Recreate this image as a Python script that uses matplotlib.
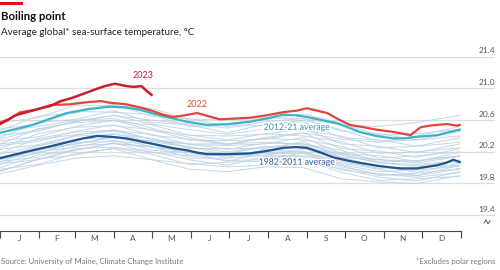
import matplotlib.pyplot as plt
from matplotlib.lines import Line2D
import matplotlib.patheffects as pe

plt.rcParams['font.family'] = ['Lato', 'DejaVu Sans']

# background years (1982-2021), values at these days of year
bg_days = [0, 30, 60, 90, 120, 150, 180, 210, 240, 270, 300, 330, 364]
bg_years = [
    [19.92, 20.03, 20.12, 20.15, 20.10, 19.98, 19.95, 20.01, 20.00, 19.86, 19.82, 19.80, 19.90],
    [19.98, 20.04, 20.18, 20.24, 20.10, 20.05, 20.01, 20.03, 20.11, 19.94, 19.84, 19.86, 19.89],
    [19.95, 20.11, 20.16, 20.25, 20.17, 20.04, 20.07, 20.08, 20.07, 19.99, 19.88, 19.83, 19.95],
    [20.05, 20.10, 20.24, 20.26, 20.20, 20.10, 20.03, 20.14, 20.14, 19.97, 19.92, 19.88, 19.94],
    [20.00, 20.16, 20.22, 20.31, 20.19, 20.15, 20.09, 20.10, 20.19, 20.03, 19.90, 19.93, 19.99],
    [20.08, 20.13, 20.28, 20.30, 20.27, 20.12, 20.12, 20.16, 20.15, 20.06, 19.98, 19.90, 20.03],
    [20.04, 20.20, 20.26, 20.35, 20.22, 20.19, 20.08, 20.19, 20.21, 20.04, 19.95, 19.97, 20.02],
    [20.11, 20.18, 20.32, 20.33, 20.30, 20.16, 20.16, 20.15, 20.24, 20.10, 20.03, 19.94, 20.06],
    [20.07, 20.24, 20.30, 20.39, 20.26, 20.21, 20.13, 20.23, 20.20, 20.08, 19.99, 20.01, 20.03],
    [20.13, 20.22, 20.36, 20.38, 20.31, 20.19, 20.18, 20.19, 20.28, 20.13, 20.02, 19.98, 20.10],
    [20.17, 20.28, 20.35, 20.43, 20.33, 20.26, 20.20, 20.27, 20.25, 20.17, 20.06, 20.04, 20.09],
    [20.12, 20.27, 20.40, 20.42, 20.37, 20.24, 20.24, 20.24, 20.33, 20.13, 20.10, 20.06, 20.14],
    [20.23, 20.29, 20.41, 20.48, 20.36, 20.30, 20.23, 20.31, 20.30, 20.22, 20.07, 20.09, 20.15],
    [20.18, 20.37, 20.45, 20.47, 20.42, 20.29, 20.28, 20.30, 20.38, 20.18, 20.15, 20.08, 20.19],
    [20.28, 20.33, 20.46, 20.54, 20.41, 20.36, 20.29, 20.37, 20.35, 20.27, 20.12, 20.15, 20.20],
    [20.24, 20.43, 20.51, 20.53, 20.48, 20.35, 20.34, 20.36, 20.44, 20.24, 20.21, 20.13, 20.24],
    [20.34, 20.39, 20.52, 20.60, 20.47, 20.41, 20.35, 20.43, 20.40, 20.33, 20.18, 20.20, 20.25],
    [20.30, 20.49, 20.57, 20.59, 20.54, 20.41, 20.40, 20.42, 20.50, 20.30, 20.27, 20.19, 20.30],
    [20.41, 20.46, 20.59, 20.66, 20.55, 20.48, 20.42, 20.49, 20.47, 20.40, 20.25, 20.27, 20.32],
    [20.38, 20.57, 20.61, 20.72, 20.57, 20.54, 20.44, 20.55, 20.58, 20.38, 20.35, 20.27, 20.38],
    [20.49, 20.55, 20.71, 20.70, 20.67, 20.52, 20.54, 20.53, 20.60, 20.48, 20.33, 20.35, 20.40],
    [20.47, 20.65, 20.69, 20.80, 20.65, 20.62, 20.52, 20.63, 20.62, 20.46, 20.43, 20.35, 20.46],
    [20.57, 20.63, 20.79, 20.78, 20.75, 20.60, 20.62, 20.61, 20.68, 20.56, 20.41, 20.43, 20.48],
    [20.10, 20.22, 20.30, 20.38, 20.34, 20.30, 20.30, 20.38, 20.44, 20.36, 20.32, 20.40, 20.52],
    [20.36, 20.48, 20.58, 20.66, 20.60, 20.55, 20.50, 20.58, 20.62, 20.54, 20.52, 20.57, 20.66],
    [20.30, 20.35, 20.42, 20.46, 20.36, 20.26, 20.16, 20.18, 20.18, 20.01, 19.92, 19.90, 19.98],
    [20.45, 20.52, 20.60, 20.62, 20.50, 20.38, 20.30, 20.32, 20.30, 20.16, 20.06, 20.02, 20.08],
    [19.96, 20.10, 20.22, 20.31, 20.26, 20.20, 20.18, 20.26, 20.30, 20.18, 20.10, 20.08, 20.15],
]

avg_8211_days = [0, 13, 26, 40, 53, 66, 77, 88, 100, 112, 124, 136, 148, 156, 164, 180, 198,
                 211, 224, 235, 243, 254, 264, 275, 285, 300, 317, 330, 338, 346, 353, 359, 364]
avg_8211 = [20.12, 20.17, 20.22, 20.27, 20.32, 20.37, 20.40, 20.39, 20.37, 20.33, 20.29, 20.25,
            20.22, 20.19, 20.17, 20.17, 20.18, 20.21, 20.25, 20.26, 20.25, 20.19, 20.13, 20.09,
            20.06, 20.02, 19.99, 19.99, 20.01, 20.03, 20.06, 20.10, 20.07]

avg_1221_days = [0, 13, 26, 40, 53, 70, 87, 100, 111, 122, 132, 140, 148, 156, 164, 180, 198,
                 211, 224, 235, 243, 255, 267, 277, 285, 298, 311, 320, 330, 338, 346, 356, 364]
avg_1221 = [20.44, 20.49, 20.54, 20.62, 20.69, 20.74, 20.77, 20.76, 20.73, 20.68, 20.64, 20.61,
            20.58, 20.56, 20.54, 20.55, 20.58, 20.62, 20.67, 20.66, 20.64, 20.60, 20.56, 20.50,
            20.45, 20.40, 20.37, 20.37, 20.39, 20.40, 20.41, 20.45, 20.48]

y2022_days = [0, 8, 16, 28, 40, 55, 71, 80, 87, 100, 111, 120, 129, 137, 146, 156, 165, 174, 186,
              198, 211, 224, 235, 243, 251, 259, 268, 277, 288, 298, 312, 325, 333, 340, 346, 354,
              362, 364]
y2022 = [20.57, 20.62, 20.70, 20.73, 20.79, 20.80, 20.83, 20.84, 20.82, 20.80, 20.76, 20.72, 20.67,
         20.64, 20.66, 20.69, 20.65, 20.61, 20.62, 20.63, 20.66, 20.70, 20.72, 20.75, 20.72, 20.69,
         20.61, 20.54, 20.51, 20.48, 20.45, 20.41, 20.51, 20.53, 20.54, 20.55, 20.53, 20.54]

y2023_days = [0, 6, 12, 21, 30, 40, 48, 55, 64, 74, 83, 91, 100, 106, 112, 116, 120]
y2023 = [20.55, 20.60, 20.66, 20.70, 20.74, 20.78, 20.84, 20.87, 20.92, 20.98, 21.03, 21.06, 21.03,
         21.02, 21.03, 20.97, 20.92]

month_starts = [0, 31, 59, 90, 120, 151, 181, 212, 243, 273, 304, 334, 365]
month_labels = ['J', 'F', 'M', 'A', 'M', 'J', 'J', 'A', 'S', 'O', 'N', 'D']
y_ticks = [19.4, 19.8, 20.2, 20.6, 21.0, 21.4]

grey = '#555555'
c2023 = '#c8202a'
c2022 = '#e4443b'
c1221 = '#3bb4c6'
c8211 = '#1f5591'

fig = plt.figure(figsize=(5, 2.7), dpi=100)
ax = fig.add_axes([0, 1 - 231 / 270, 495 / 500, (231 - 56) / 270])

for vals in bg_years:
    ax.plot(bg_days, vals, color='#bdd3e4', lw=0.7, alpha=0.9, zorder=2)

ax.plot(avg_8211_days, avg_8211, color=c8211, lw=1.6, zorder=4)
ax.plot(avg_1221_days, avg_1221, color=c1221, lw=1.6, zorder=4)
ax.plot(y2022_days, y2022, color=c2022, lw=1.6, zorder=5)
ax.plot(y2023_days, y2023, color=c2023, lw=1.8, zorder=6)

halo = [pe.withStroke(linewidth=2, foreground='white')]
ax.text(113, 21.16, '2023', color=c2023, fontsize=6.5, ha='center', va='center', zorder=7)
ax.text(156, 20.80, '2022', color=c2022, fontsize=6.5, ha='center', va='center', zorder=7)
ax.text(235, 20.51, '2012-21 average', color='#2a8fa0', fontsize=6.3, ha='center',
        va='center', zorder=7, path_effects=halo)
ax.text(235, 20.07, '1982-2011 average', color=c8211, fontsize=6.3, ha='center',
        va='center', zorder=7, path_effects=halo)

ax.set_xlim(0, 365 * 495 / 461)
ax.set_ylim(19.2, 21.41)

ax.set_yticks(y_ticks)
ax.tick_params(axis='y', length=0, labelleft=False)
ax.grid(axis='y', color='#dddddd', lw=0.9, zorder=0)
for t in y_ticks:
    ax.text(1.0, t + 0.03, f'{t:.1f}', transform=ax.get_yaxis_transform(), ha='right',
            va='bottom', fontsize=6, color=grey)

ax.set_xticks(month_starts)
ax.set_xticklabels([])
mids = [(month_starts[i] + month_starts[i + 1]) / 2 for i in range(12)]
ax.set_xticks(mids, minor=True)
ax.set_xticklabels(month_labels, minor=True)
ax.tick_params(axis='x', which='major', direction='out', length=5, width=0.8, color='#444444')
ax.tick_params(axis='x', which='minor', length=0, pad=3, labelsize=6, labelcolor=grey)

for s in ['top', 'right', 'left']:
    ax.spines[s].set_visible(False)
ax.spines['bottom'].set_bounds(0, 365)
ax.spines['bottom'].set_color('#444444')
ax.spines['bottom'].set_linewidth(0.8)

# axis break mark
fig.add_artist(Line2D([484 / 500, 486 / 500, 488 / 500, 490 / 500],
                      [1 - 223 / 270, 1 - 220 / 270, 1 - 224 / 270, 1 - 221 / 270],
                      color=grey, lw=0.7))

# header
fig.add_artist(Line2D([0, 21 / 500], [1 - 3 / 270, 1 - 3 / 270], color='#e3120b', lw=2.2))
fig.text(0.002, 1 - 20 / 270, 'Boiling point', fontsize=8.2, fontweight='bold', color='#111111')
fig.text(0.002, 1 - 35 / 270, 'Average global* sea-surface temperature, °C', fontsize=7.1,
         color='#222222')

fig.text(0.002, 1 - 264 / 270, 'Source: University of Maine, Climate Change Institute',
         fontsize=5.6, color='#777777')
fig.text(495 / 500, 1 - 264 / 270, '*Excludes polar regions', fontsize=5.6, color='#777777',
         ha='right')

fig.savefig('out.png', dpi=100)
